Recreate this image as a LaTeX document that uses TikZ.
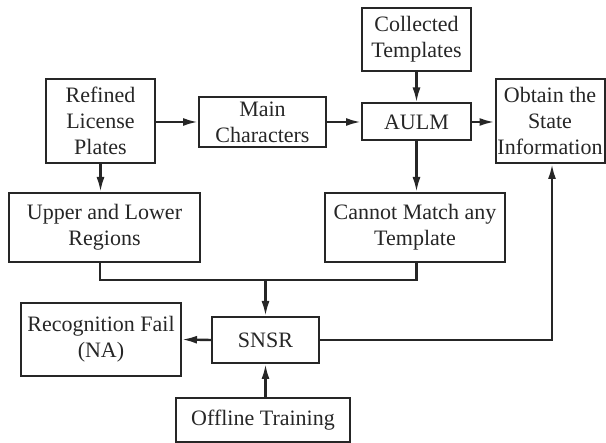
\documentclass[tikz,border=0pt]{standalone}
\usepackage{fontspec}
\setmainfont{Liberation Serif}
\usetikzlibrary{arrows.meta}
\begin{document}
\begin{tikzpicture}[x=1pt,y=-1pt,
  box/.style={draw=black!85, line width=2pt, align=center, inner sep=0pt,
    font=\fontsize{22}{26}\selectfont, text=black!85},
  arr/.style={draw=black!85, line width=2.4pt, -{Latex[length=15pt,width=8pt]}},
  ln/.style={draw=black!85, line width=2.4pt}]
\useasboundingbox (0,0) rectangle (606,443);
\node[box, minimum width=109pt, minimum height=84pt] (ref) at (100.5,121) {Refined\\License\\Plates};
\node[box, minimum width=127pt, minimum height=50pt] (main) at (262.5,122) {Main\\Characters};
\node[box, minimum width=109pt, minimum height=63pt] (coll) at (416.5,39.5) {Collected\\Templates};
\node[box, minimum width=109pt, minimum height=37pt] (aulm) at (416.5,122) {AULM};
\node[box, minimum width=109pt, minimum height=84pt] (obt) at (550,121) {Obtain the\\State\\Information};
\node[box, minimum width=180pt, minimum height=69pt] (cannot) at (415,227.5) {Cannot Match any\\Template};
\node[box, minimum width=191pt, minimum height=69pt] (upper) at (104.5,227.5) {Upper and Lower\\Regions};
\node[box, minimum width=107pt, minimum height=46pt] (snsr) at (265.5,340) {SNSR};
\node[box, minimum width=160pt, minimum height=73pt] (fail) at (101,339.5) {Recognition Fail\\(NA)};
\node[box, minimum width=174pt, minimum height=44pt] (off) at (263,420) {Offline Training};
\coordinate (jl) at (100,280);
\coordinate (jr) at (416.5,280);
\coordinate (jm) at (265.5,280);
\coordinate (rc) at (552,340);
\draw[arr] (ref.east |- main.west) -- (main.west);
\draw[arr] (main.east) -- (main.east -| aulm.west);
\draw[arr] (coll.south) -- (aulm.north);
\draw[arr] (aulm.east) -- (aulm.east -| obt.west);
\draw[arr] (ref.south) -- (ref.south |- upper.north);
\draw[arr] (aulm.south) -- (aulm.south |- cannot.north);
\draw[ln] (upper.south -| jl) -- (jl) -- (jr) -- (cannot.south -| jr);
\draw[arr] (jm) -- (snsr.north);
\draw[arr] (snsr.west) -- (fail.east);
\draw[arr] (off.north -| snsr.south) -- (snsr.south);
\draw[arr] (snsr.east) -- (rc) -- (rc |- obt.south);
\end{tikzpicture}
\end{document}
